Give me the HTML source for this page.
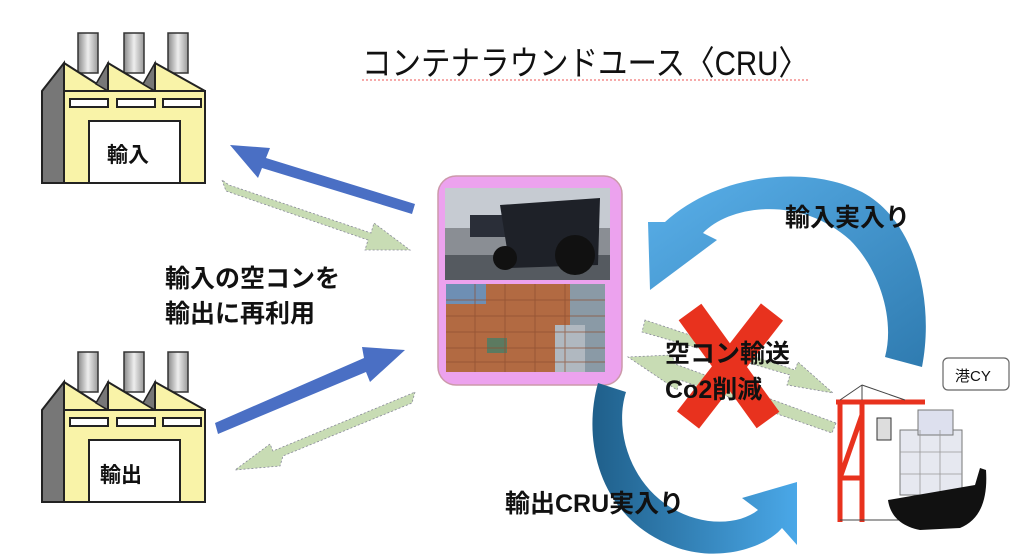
<!DOCTYPE html>
<html><head><meta charset="utf-8"><style>
html,body{margin:0;padding:0;background:#fff;}
svg{display:block;}
text{font-family:"Liberation Sans","Noto Sans CJK JP",sans-serif;}
</style></head><body>
<svg width="1024" height="556" viewBox="0 0 1024 556" xmlns="http://www.w3.org/2000/svg">
<defs>
<linearGradient id="stk" x1="0" x2="1"><stop offset="0" stop-color="#888"/><stop offset=".5" stop-color="#eee"/><stop offset="1" stop-color="#999"/></linearGradient>
<linearGradient id="arcA" x1="0" y1="0" x2="1" y2="1"><stop offset="0" stop-color="#5ab0ea"/><stop offset="1" stop-color="#2f7bb0"/></linearGradient>
<linearGradient id="arcB" x1="0" y1="0" x2="1" y2="0"><stop offset="0" stop-color="#1f5f8a"/><stop offset="1" stop-color="#4aa8e8"/></linearGradient>
<g id="factory">
<rect x="78" y="0" width="20" height="40" fill="url(#stk)" stroke="#333" stroke-width="1.5"/>
<rect x="124" y="0" width="20" height="40" fill="url(#stk)" stroke="#333" stroke-width="1.5"/>
<rect x="168" y="0" width="20" height="40" fill="url(#stk)" stroke="#333" stroke-width="1.5"/>
<polygon points="42,58 64,30 64,150 42,150" fill="#777" stroke="#222" stroke-width="2"/>
<polygon points="64,30 108,58 64,58" fill="#f9f3a8" stroke="#222" stroke-width="2" stroke-linejoin="round"/>
<polygon points="108,30 108,58 96,51" fill="#777" stroke="#222" stroke-width="1.5"/>
<polygon points="108,30 155,58 108,58" fill="#f9f3a8" stroke="#222" stroke-width="2" stroke-linejoin="round"/>
<polygon points="155,30 155,58 143,51" fill="#777" stroke="#222" stroke-width="1.5"/>
<polygon points="155,30 205,58 155,58" fill="#f9f3a8" stroke="#222" stroke-width="2" stroke-linejoin="round"/>
<polygon points="64,58 205,58 205,150 64,150" fill="#f9f3a8" stroke="#222" stroke-width="2"/>
<rect x="70" y="66" width="38" height="8" fill="#fff" stroke="#222" stroke-width="2"/>
<rect x="117" y="66" width="38" height="8" fill="#fff" stroke="#222" stroke-width="2"/>
<rect x="163" y="66" width="38" height="8" fill="#fff" stroke="#222" stroke-width="2"/>
<rect x="89" y="88" width="91" height="62" fill="#fff" stroke="#222" stroke-width="2"/>
</g>
</defs>
<!-- title -->
<text x="362" y="75" font-size="34" fill="#111" textLength="446" lengthAdjust="spacingAndGlyphs">コンテナラウンドユース〈CRU〉</text>
<line x1="362" y1="80" x2="808" y2="80" stroke="#e55" stroke-width="1" stroke-dasharray="2,2"/>
<!-- factories -->
<use href="#factory" x="0" y="33"/>
<text x="107" y="162" font-size="21" font-weight="bold" fill="#111">輸入</text>
<use href="#factory" x="0" y="352"/>
<text x="100" y="482" font-size="21" font-weight="bold" fill="#111">輸出</text>
<!-- left arrows -->
<polygon points="230,145 270,148 266,158 415,204 412,214 262,168 258,178" fill="#4a6fc4"/>
<polygon points="222,180 226,191 368,240 365,250 410,250 374,223 371,233 229,185" fill="#c8dcb4" stroke="#889" stroke-width=".8" stroke-dasharray="2,2"/>
<polygon points="215,423 218,434 366,372 370,382 405,350 362,347 364,358" fill="#4a6fc4"/>
<polygon points="415,392 412,403 283,456 280,466 235,470 270,444 273,451 408,395" fill="#c8dcb4" stroke="#889" stroke-width=".8" stroke-dasharray="2,2"/>
<text x="165" y="287" font-size="25" font-weight="bold" fill="#111">輸入の空コンを</text>
<text x="165" y="322" font-size="25" font-weight="bold" fill="#111">輸出に再利用</text>
<!-- center box -->
<rect x="438" y="176" width="184" height="209" rx="18" fill="#eca2ee" stroke="#c9a" stroke-width="1.5"/>
<rect x="445" y="188" width="165" height="92" fill="#8a8e94"/>
<rect x="445" y="188" width="165" height="40" fill="#c6cbd2"/>
<rect x="445" y="255" width="165" height="25" fill="#555a60"/>
<rect x="470" y="215" width="40" height="22" fill="#2a2e38"/>
<path d="M500 205 L600 198 L598 265 L510 268 Z" fill="#1e2128"/>
<circle cx="575" cy="255" r="20" fill="#111"/>
<circle cx="505" cy="258" r="12" fill="#111"/>
<rect x="446" y="284" width="159" height="88" fill="#b26a42"/>
<rect x="446" y="284" width="40" height="20" fill="#6e8fb4"/>
<rect x="570" y="284" width="35" height="88" fill="#8a9aa6"/>
<rect x="555" y="325" width="30" height="47" fill="#b0b8c0"/>
<rect x="487" y="338" width="20" height="15" fill="#5c7a60"/>
<g stroke="#8e4e30" stroke-width="1" opacity=".7">
<line x1="446" y1="300" x2="605" y2="300"/><line x1="446" y1="316" x2="605" y2="316"/><line x1="446" y1="332" x2="605" y2="332"/><line x1="446" y1="348" x2="605" y2="348"/><line x1="446" y1="362" x2="605" y2="362"/>
<line x1="475" y1="284" x2="475" y2="372"/><line x1="505" y1="284" x2="505" y2="372"/><line x1="535" y1="284" x2="535" y2="372"/><line x1="565" y1="284" x2="565" y2="372"/>
</g>
<!-- top arc arrow -->
<path d="M648,222 L650,290 L717,240 L703,233 C730,205 800,195 850,240 C880,270 895,320 885,357 L922,367 C935,300 915,220 862,192 C810,165 720,172 665,222 Z" fill="url(#arcA)"/>
<text x="785" y="226" font-size="25" font-weight="bold" fill="#111">輸入実入り</text>
<!-- bottom arc arrow -->
<path d="M598,383 C582,440 598,520 678,548 C720,562 765,548 782,528 L797,545 L797,482 L742,498 L758,510 C738,526 700,526 670,507 C630,482 614,430 626,392 Z" fill="url(#arcB)"/>
<text x="505" y="512" font-size="25" font-weight="bold" fill="#111">輸出CRU実入り</text>
<!-- middle green arrows -->
<polygon points="645,320 642,332 790,375 787,385 833,393 798,362 795,370" fill="#c8dcb4" stroke="#889" stroke-width=".8" stroke-dasharray="2,2"/>
<polygon points="836,423 832,433 680,380 677,390 628,357 672,355 675,364" fill="#c8dcb4" stroke="#889" stroke-width=".8" stroke-dasharray="2,2"/>
<!-- red X -->
<g stroke="#e8321e" stroke-width="28">
<line x1="690" y1="312" x2="768" y2="420"/><line x1="772" y1="312" x2="688" y2="420"/>
</g>
<text x="665" y="362" font-size="25" font-weight="bold" fill="#111">空コン輸送</text>
<text x="665" y="398" font-size="25" font-weight="bold" fill="#111">Co2削減</text>
<!-- 港CY -->
<rect x="943" y="358" width="66" height="32" rx="5" fill="#fff" stroke="#666" stroke-width="1.2"/>
<text x="955" y="381" font-size="15" fill="#111">港CY</text>
<!-- crane -->
<g fill="none" stroke="#e8321e" stroke-width="5">
<line x1="836" y1="402" x2="925" y2="402"/>
<line x1="840" y1="400" x2="840" y2="522"/><line x1="862" y1="400" x2="862" y2="522"/>
<line x1="840" y1="478" x2="862" y2="478"/><line x1="862" y1="415" x2="840" y2="478"/>
</g>
<g stroke="#444" stroke-width="1" fill="none"><line x1="862" y1="385" x2="840" y2="400"/><line x1="862" y1="385" x2="905" y2="400"/><line x1="862" y1="385" x2="862" y2="400"/><line x1="840" y1="520" x2="900" y2="520"/></g>
<rect x="877" y="418" width="14" height="22" fill="#ddd" stroke="#333"/>
<!-- ship -->
<rect x="900" y="430" width="62" height="65" fill="#e6e8f0" stroke="#777"/>
<rect x="918" y="410" width="35" height="25" fill="#dde0ee" stroke="#777"/>
<g stroke="#999" stroke-width=".8"><line x1="920" y1="430" x2="920" y2="495"/><line x1="940" y1="430" x2="940" y2="495"/><line x1="900" y1="452" x2="962" y2="452"/><line x1="900" y1="474" x2="962" y2="474"/></g>
<path d="M888,500 L975,485 L980,468 L986,470 C988,500 980,520 960,528 L920,530 C900,526 890,515 888,500 Z" fill="#111"/>
</svg>
</body></html>
